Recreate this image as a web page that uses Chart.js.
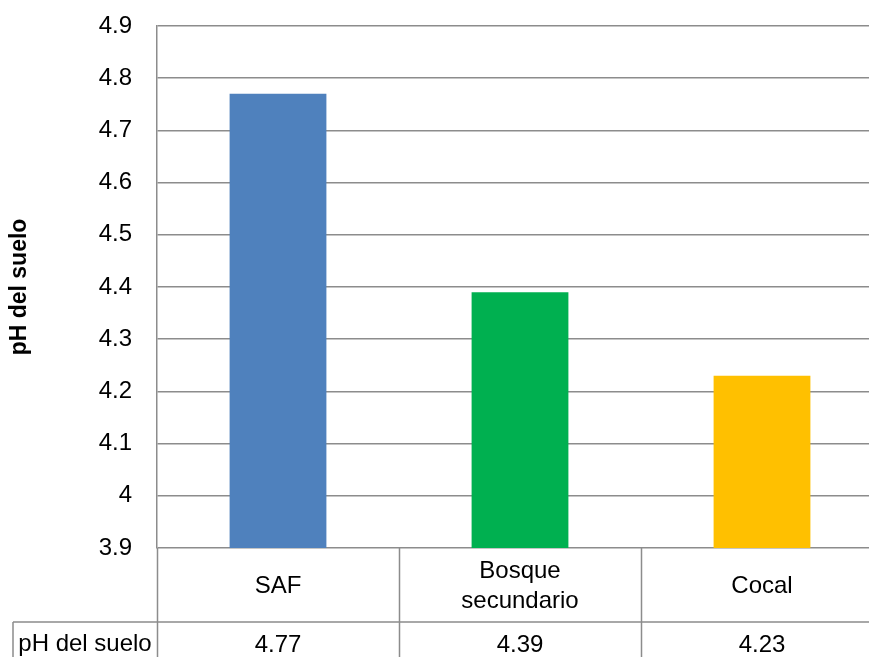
<!DOCTYPE html>
<html>
<head>
<meta charset="utf-8">
<script src="https://cdn.jsdelivr.net/npm/chart.js@4/dist/chart.umd.min.js"></script>
<style>
  html, body { margin: 0; padding: 0; background: #fff; }
  #wrap { width: 869px; height: 657px; overflow: hidden; position: relative; }
  #wrap canvas { position: absolute; left: 0; top: 0; }
</style>
</head>
<body>
<div id="wrap"><canvas id="c" width="900" height="657"></canvas></div>
<script>
// data
const categories = ['SAF', ['Bosque', 'secundario'], 'Cocal'];
const seriesName = 'pH del suelo';
const phValues = [4.77, 4.39, 4.23];
const barColors = ['#4F81BD', '#00B050', '#FFC000'];
const yTicks = [3.9, 4, 4.1, 4.2, 4.3, 4.4, 4.5, 4.6, 4.7, 4.8, 4.9];

const FONT = '"Liberation Sans", Arial, sans-serif';
const LINE = '#8c8c8c';

// Excel style data table under the plot
const dataTable = {
  id: 'dataTable',
  afterDraw(chart) {
    const ctx = chart.ctx;
    const x = chart.scales.x;
    const top = chart.chartArea.bottom;
    const rowSplit = 622;
    const bottom = chart.height;
    const leftEdge = 13;
    const n = categories.length;
    const w = (x.right - x.left) / n;

    ctx.save();
    ctx.strokeStyle = LINE;
    ctx.lineWidth = 1.5;
    ctx.beginPath();
    for (let i = 0; i <= n; i++) {
      const px = Math.round(x.left + i * w) + 0.5;
      ctx.moveTo(px, top);
      ctx.lineTo(px, bottom);
    }
    ctx.moveTo(leftEdge, rowSplit);
    ctx.lineTo(x.right, rowSplit);
    ctx.moveTo(leftEdge, rowSplit);
    ctx.lineTo(leftEdge, bottom);
    ctx.stroke();

    ctx.fillStyle = '#000';
    ctx.font = '24px ' + FONT;
    ctx.textAlign = 'center';
    ctx.textBaseline = 'alphabetic';
    categories.forEach((lab, i) => {
      const cx = x.getPixelForValue(i);
      const lines = Array.isArray(lab) ? lab : [lab];
      const lh = 30;
      const base = 593 - (lines.length - 1) * lh / 2;
      lines.forEach((ln, j) => ctx.fillText(ln, cx, base + j * lh));
      ctx.fillText(String(phValues[i]), cx, 652);
    });
    ctx.fillText(seriesName, (leftEdge + x.left) / 2, 651);
    ctx.restore();
  }
};

new Chart(document.getElementById('c'), {
  type: 'bar',
  data: {
    labels: categories,
    datasets: [{
      label: seriesName,
      data: phValues,
      backgroundColor: barColors,
      borderWidth: 0,
      categoryPercentage: 1,
      barPercentage: 0.4
    }]
  },
  options: {
    responsive: false,
    animation: false,
    layout: { padding: { left: 0, top: 26, right: 17, bottom: 109 } },
    plugins: {
      legend: { display: false },
      tooltip: { enabled: false },
      title: { display: false }
    },
    scales: {
      x: { display: false },
      y: {
        min: 3.9,
        max: 4.9,
        afterBuildTicks: (s) => { s.ticks = yTicks.map(v => ({ value: v })); },
        afterFit: (s) => { s.width = 157; },
        ticks: {
          color: '#000',
          padding: 0,
          font: { family: FONT, size: 24 },
          callback: (v) => String(v)
        },
        // invisible tick marks keep the labels 25px off the axis
        grid: { color: LINE, lineWidth: 1.5, drawTicks: true, tickLength: 25, tickColor: 'rgba(0,0,0,0)' },
        border: { display: true, color: LINE, width: 1.5 },
        title: {
          display: true,
          text: seriesName,
          color: '#000',
          font: { family: FONT, size: 23, weight: 'bold' },
          padding: { top: 6, bottom: 0 }
        }
      }
    }
  },
  plugins: [dataTable]
});
</script>
</body>
</html>
